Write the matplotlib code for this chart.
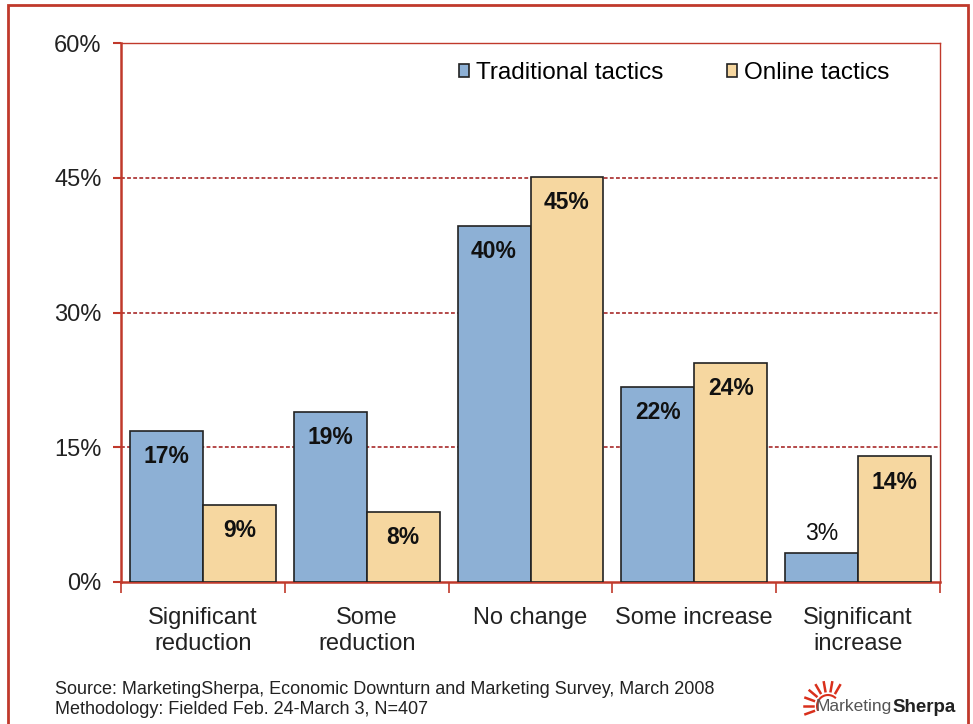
import matplotlib
matplotlib.use("Agg")
import matplotlib.pyplot as plt
import numpy as np
from matplotlib.patches import Rectangle
from matplotlib.lines import Line2D

categories = ["Significant\nreduction", "Some\nreduction", "No change", "Some increase", "Significant\nincrease"]
traditional = [16.8, 18.9, 39.6, 21.7, 3.2]
online = [8.6, 7.8, 45.1, 24.4, 14.0]
trad_labels = ["17%", "19%", "40%", "22%", "3%"]
online_labels = ["9%", "8%", "45%", "24%", "14%"]
yticks = [0, 15, 30, 45, 60]
ytick_labels = ["0%", "15%", "30%", "45%", "60%"]
series_names = ["Traditional tactics", "Online tactics"]

plt.rcParams['font.family'] = ['Liberation Sans', 'DejaVu Sans']

W, H = 973, 724
fig = plt.figure(figsize=(W / 100, H / 100), dpi=100)
ax = fig.add_axes([121 / W, 1 - 582 / H, (940 - 121) / W, (582 - 43) / H])

red = "#c0392b"
blue = "#8db0d5"
tan = "#f6d7a0"
x = np.arange(len(categories))
bw = 0.445
ax.bar(x - bw / 2, traditional, bw, color=blue, edgecolor="#222222", linewidth=1.2, zorder=3)
ax.bar(x + bw / 2, online, bw, color=tan, edgecolor="#222222", linewidth=1.2, zorder=3)

for i, (v, lab) in enumerate(zip(traditional, trad_labels)):
    if v < 6:
        ax.text(x[i] - bw / 2, v + 2.2, lab, ha="center", va="center", fontsize=16.5, color="#111111", zorder=4)
    else:
        ax.text(x[i] - bw / 2, v - 2.8, lab, ha="center", va="center", fontsize=16.5, fontweight="bold", color="#111111", zorder=4)
for i, (v, lab) in enumerate(zip(online, online_labels)):
    ax.text(x[i] + bw / 2, v - 2.9, lab, ha="center", va="center", fontsize=16.5, fontweight="bold", color="#111111", zorder=4)

ax.set_xlim(-0.5, len(categories) - 0.5)
ax.set_ylim(0, 60)
ax.set_yticks(yticks)
ax.set_yticklabels(ytick_labels, fontsize=17, color="#222222")
ax.set_xticks(x)
ax.set_xticklabels(categories, fontsize=17, linespacing=1.22, color="#222222")
ax.tick_params(axis="x", length=0, pad=18)
ax.tick_params(axis="y", length=6, color=red, width=1.5, pad=8)
ax.set_xticks(np.arange(len(categories) + 1) - 0.5, minor=True)
ax.tick_params(axis="x", which="minor", length=8, color=red, width=1.2, direction="out")

for g in yticks[1:-1]:
    ax.axhline(g, color="#a01818", linestyle=(0, (2.5, 1.5)), linewidth=1.1, zorder=1)

for s in ["left", "bottom"]:
    ax.spines[s].set_color(red)
    ax.spines[s].set_linewidth(1.8)
for s in ["top", "right"]:
    ax.spines[s].set_color(red)
    ax.spines[s].set_linewidth(1.0)

handles = [Rectangle((0, 0), 1, 1, facecolor=blue, edgecolor="#222222", linewidth=1.2),
           Rectangle((0, 0), 1, 1, facecolor=tan, edgecolor="#222222", linewidth=1.2)]
ax.legend(handles, series_names, loc="upper right", bbox_to_anchor=(0.965, 1.005), ncol=2,
          frameon=False, fontsize=17.5, handlelength=0.42, handleheight=0.42, handletextpad=0.3,
          columnspacing=2.6)

# outer frame
fig.patches.append(Rectangle((8 / W, -0.05), (968 - 8) / W, 1.05 - 5 / H, transform=fig.transFigure,
                             fill=False, edgecolor=red, linewidth=2.0))

fig.text(55 / W, 1 - 690 / H, "Source: MarketingSherpa, Economic Downturn and Marketing Survey, March 2008",
         fontsize=13, color="#222222", va="center")
fig.text(55 / W, 1 - 709 / H, "Methodology: Fielded Feb. 24-March 3, N=407",
         fontsize=13, color="#222222", va="center")

# logo
t1 = fig.text(816 / W, 1 - 707 / H, "Marketing", fontsize=12.5, color="#555555", va="center")
fig.canvas.draw()
bb = t1.get_window_extent()
fig.text(bb.x1 / W, 1 - 707 / H, "Sherpa", fontsize=13.5, color="#222222", fontweight="bold", va="center")
cx, cy = 828, 706
for ang in np.linspace(60, 200, 8):
    a = np.deg2rad(ang)
    r1, r2 = 15, 24
    fig.add_artist(Line2D([(cx + r1 * np.cos(a)) / W, (cx + r2 * np.cos(a)) / W],
                          [1 - (cy - r1 * np.sin(a)) / H, 1 - (cy - r2 * np.sin(a)) / H],
                          transform=fig.transFigure, color="#d9301c", linewidth=1.8))
fig.add_artist(Line2D([(cx + 11 * np.cos(np.deg2rad(t))) / W for t in np.linspace(50, 200, 20)],
                      [1 - (cy - 11 * np.sin(np.deg2rad(t))) / H for t in np.linspace(50, 200, 20)],
                      transform=fig.transFigure, color="#d9301c", linewidth=1.5))

fig.savefig("out.png", dpi=100)
